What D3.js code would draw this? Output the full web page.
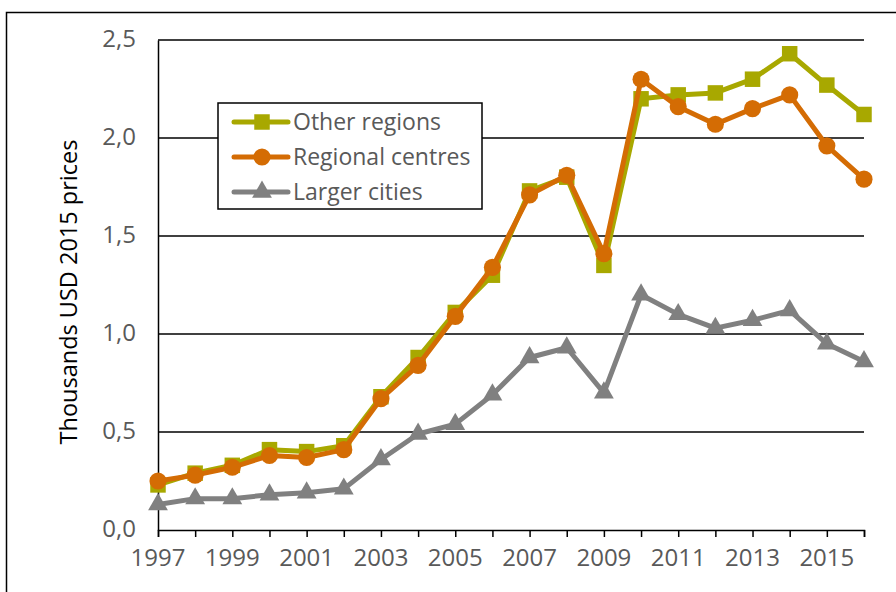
<!DOCTYPE html>
<html>
<head>
<meta charset="utf-8">
<script src="https://cdn.jsdelivr.net/npm/d3@7"></script>
<style>
    body { margin: 0; background: #fff; }
    svg text { font-family: "Open Sans", "Noto Sans", sans-serif; fill: #595959; }
</style>
</head>
<body>
<div id="chart"></div>
<script>
const years = d3.range(1997, 2017);
const yearLabels = [1997, 1999, 2001, 2003, 2005, 2007, 2009, 2011, 2013, 2015];
const yTicks = [0, 0.5, 1.0, 1.5, 2.0, 2.5];

const otherRegions = [0.23, 0.29, 0.33, 0.41, 0.40, 0.43, 0.68, 0.88, 1.11, 1.30,
    1.73, 1.80, 1.35, 2.20, 2.22, 2.23, 2.30, 2.43, 2.27, 2.12];
const regionalCentres = [0.25, 0.28, 0.32, 0.38, 0.37, 0.41, 0.67, 0.84, 1.09, 1.34,
    1.71, 1.81, 1.41, 2.30, 2.16, 2.07, 2.15, 2.22, 1.96, 1.79];
const largerCities = [0.13, 0.16, 0.16, 0.18, 0.19, 0.21, 0.36, 0.49, 0.54, 0.69,
    0.88, 0.93, 0.70, 1.20, 1.10, 1.03, 1.07, 1.12, 0.95, 0.86];

const series = [
    { name: "Other regions", values: otherRegions, color: "#a8a800", shape: "square" },
    { name: "Regional centres", values: regionalCentres, color: "#d46c04", shape: "circle" },
    { name: "Larger cities", values: largerCities, color: "#808080", shape: "triangle" }
];

const width = 896, height = 592;
const svg = d3.select("#chart").append("svg")
    .attr("width", width)
    .attr("height", height);

// outer frame
svg.append("rect")
    .attr("x", 6.5).attr("y", 12.5)
    .attr("width", width + 20).attr("height", height + 20)
    .attr("fill", "none").attr("stroke", "#000").attr("stroke-width", 1.5);

const x = d3.scaleLinear().domain([1997, 2016]).range([158, 864]);
const y = d3.scaleLinear().domain([0, 2.5]).range([530, 40]);

// gridlines
svg.append("g")
    .selectAll("line")
    .data(yTicks.filter(d => d > 0))
    .enter().append("line")
    .attr("x1", x(1997)).attr("x2", x(2016))
    .attr("y1", d => y(d)).attr("y2", d => y(d))
    .attr("stroke", "#000").attr("stroke-width", 1.5);

// y axis
const yAxis = svg.append("g")
    .attr("transform", `translate(${x(1997)},0)`)
    .call(d3.axisLeft(y).tickValues(yTicks).tickSize(0).tickPadding(22)
        .tickFormat(d => d3.format(".1f")(d).replace(".", ",")));
yAxis.select(".domain").attr("stroke", "#000").attr("stroke-width", 1.5);
yAxis.selectAll("text").style("font-size", "24px").attr("dy", "0.28em");

// x axis
const xAxis = svg.append("g")
    .attr("transform", `translate(0,${y(0)})`)
    .call(d3.axisBottom(x).tickValues(years).tickSize(7).tickFormat(""));
xAxis.select(".domain").attr("stroke", "#000").attr("stroke-width", 1.5);
xAxis.selectAll("line").attr("stroke", "#000").attr("stroke-width", 1.5);

svg.append("g")
    .selectAll("text")
    .data(yearLabels)
    .enter().append("text")
    .attr("x", d => x(d))
    .attr("y", 566)
    .attr("text-anchor", "middle")
    .style("font-size", "24px")
    .text(d => d);

// y axis title
svg.append("text")
    .attr("transform", "translate(77,292) rotate(-90)")
    .attr("text-anchor", "middle")
    .style("font-size", "23.5px")
    .style("fill", "#000")
    .text("Thousands USD 2015 prices");

const symbolFor = {
    square: d3.symbol().type(d3.symbolSquare).size(240),
    circle: d3.symbol().type(d3.symbolCircle).size(230),
    triangle: d3.symbol().type(d3.symbolTriangle).size(170)
};

const line = d3.line()
    .x((d, i) => x(years[i]))
    .y(d => y(d));

series.forEach(s => {
    const g = svg.append("g");
    g.append("path")
        .datum(s.values)
        .attr("d", line)
        .attr("fill", "none")
        .attr("stroke", s.color)
        .attr("stroke-width", 5)
        .attr("stroke-linejoin", "round");
    g.selectAll("path.marker")
        .data(s.values)
        .enter().append("path")
        .attr("class", "marker")
        .attr("d", symbolFor[s.shape])
        .attr("transform", (d, i) => `translate(${x(years[i])},${y(d)})`)
        .attr("fill", s.color);
});

// legend
const legend = svg.append("g").attr("transform", "translate(218,103)");
legend.append("rect")
    .attr("width", 264).attr("height", 106)
    .attr("fill", "#fff").attr("stroke", "#000").attr("stroke-width", 1.5);

series.forEach((s, i) => {
    const row = legend.append("g").attr("transform", `translate(0,${19 + i * 35})`);
    row.append("line")
        .attr("x1", 16).attr("x2", 70)
        .attr("stroke", s.color).attr("stroke-width", 5).attr("stroke-linecap", "round");
    row.append("path")
        .attr("d", symbolFor[s.shape])
        .attr("transform", "translate(44,0)")
        .attr("fill", s.color);
    row.append("text")
        .attr("x", 75).attr("y", 8)
        .style("font-size", "23px")
        .text(s.name);
});
</script>
</body>
</html>
